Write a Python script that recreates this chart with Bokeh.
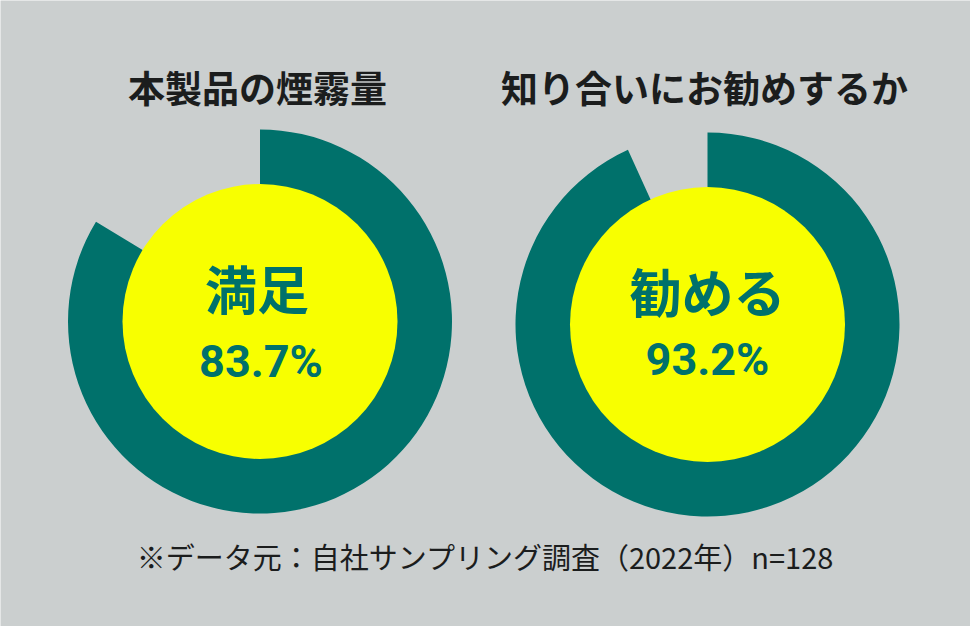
import math
from bokeh.plotting import figure
from bokeh.models import Range1d, ColumnDataSource
from bokeh.core.properties import value
from bokeh.embed import file_html
from bokeh.resources import INLINE

# ---- data ----
titles = ["本製品の煙霧量", "知り合いにお勧めするか"]
labels = ["満足", "勧める"]
percents = [83.7, 93.2]
percent_texts = ["83.7%", "93.2%"]
footnote = "※データ元：自社サンプリング調査（2022年）n=128"

W, H = 970, 626
BG = "#cbcfcf"
TEAL = "#00716b"
YELLOW = "#f8ff00"
DARK = "#1b1d1d"

# layout (pixel coordinates, y measured from top)
cx = [259.5, 707.0]
cy_px = [321.0, 324.0]
cy = [H - v for v in cy_px]
outer_r = 192
inner_r = 137.5

start = [math.pi / 2 - 2 * math.pi * v / 100.0 for v in percents]
end = [math.pi / 2 for _ in percents]

p = figure(width=W, height=H, output_backend="svg", toolbar_location=None,
           x_range=Range1d(0, W), y_range=Range1d(0, H),
           min_border=0, background_fill_color=BG, border_fill_color=BG)
p.axis.visible = False
p.grid.visible = False
p.outline_line_color = None

ring = ColumnDataSource(dict(x=cx, y=cy, s=start, e=end))
p.annular_wedge(x="x", y="y", inner_radius=inner_r - 2, outer_radius=outer_r,
                start_angle="s", end_angle="e", direction="anticlock",
                fill_color=TEAL, line_color=None, source=ring)
p.circle(x="x", y="y", radius=inner_r, fill_color=YELLOW, line_color=None, source=ring)

# titles
p.text(x=[257, 704], y=[H - 86, H - 86], text=titles,
       text_font=value("Noto Sans CJK JP"), text_font_style="bold",
       text_font_size="37px", text_color=DARK,
       text_align="center", text_baseline="middle")

# center labels
p.text(x=[cx[0] - 3, cx[1]], y=[H - 287, H - 290], text=labels,
       text_font=value("Noto Sans CJK JP"), text_font_style="bold",
       text_font_size="52px", text_color=TEAL,
       text_align="center", text_baseline="middle")

p.text(x=[cx[0] + 1, cx[1]], y=[H - 361, H - 359], text=percent_texts,
       text_font=value("Roboto"), text_font_style="bold",
       text_font_size="45px", text_color=TEAL,
       text_align="center", text_baseline="middle")

# footnote
p.text(x=[485], y=[H - 555], text=[footnote],
       text_font=value("Noto Sans CJK JP"), text_font_size="29px",
       text_color=DARK, text_align="center", text_baseline="middle")

open("out.html", "w").write(file_html(p, INLINE))
